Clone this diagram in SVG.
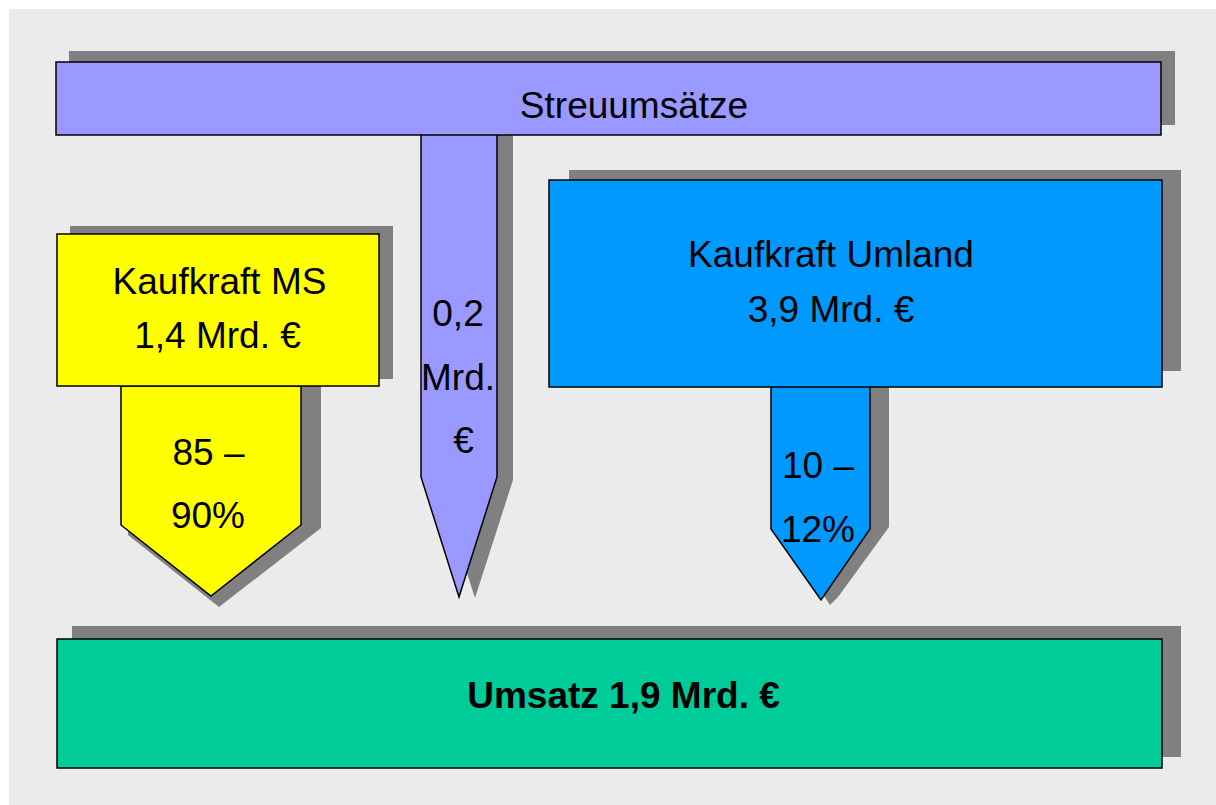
<svg xmlns="http://www.w3.org/2000/svg" width="1216" height="805" viewBox="0 0 1216 805">
<style>
.shadow{fill:#808080;stroke:none}
.box{stroke:#000;stroke-width:1.5}
.t{font-family:"Liberation Sans",Arial,Helvetica,sans-serif;font-size:37px;fill:#000;text-anchor:middle}
.b{font-weight:bold}
</style>
<rect x="0" y="0" width="1216" height="805" fill="#ffffff"/>
<rect x="9" y="9" width="1207" height="796" fill="#ebebeb"/>
<g id="streuumsaetze">
<rect class="shadow" x="69" y="51" width="1106" height="74"/>
<polygon class="shadow" points="437,125 513,125 513,480 475,598 437,480"/>
<polygon class="box" fill="#9999ff" points="421,134 497,134 497,477 459,597 421,477"/>
<rect class="box" fill="#9999ff" x="56" y="62" width="1105" height="73"/>
<text class="t" x="634" y="118">Streuumsätze</text>
<text class="t" x="458" y="326">0,2</text>
<text class="t" x="458" y="390">Mrd.</text>
<text class="t" x="463.5" y="453">€</text>
</g>
<g id="kaufkraft-ms">
<rect class="shadow" x="70" y="226" width="323" height="153"/>
<polygon class="shadow" points="130,386 321,386 321,528 219,607 128,535"/>
<polygon class="box" fill="#ffff00" points="121,386 301,386 301,525 211,596 121,525"/>
<rect class="box" fill="#ffff00" x="57" y="234" width="322" height="152"/>
<text class="t" x="219.5" y="294">Kaufkraft MS</text>
<text class="t" x="217.5" y="348">1,4 Mrd. €</text>
<text class="t" x="208.5" y="465">85 –</text>
<text class="t" x="208" y="528">90%</text>
</g>
<g id="kaufkraft-umland">
<rect class="shadow" x="569" y="170" width="612" height="201"/>
<polygon class="shadow" points="790,386 889,386 889,527 838,597 830,605 790,545"/>
<polygon class="box" fill="#0099ff" points="771,386 870,386 870,529 821,600 771,529"/>
<rect class="box" fill="#0099ff" x="549" y="180" width="613" height="207"/>
<text class="t" x="831" y="267">Kaufkraft Umland</text>
<text class="t" x="831" y="322">3,9 Mrd. €</text>
<text class="t" x="818" y="478">10 –</text>
<text class="t" x="818" y="542">12%</text>
</g>
<g id="umsatz">
<rect class="shadow" x="72" y="626" width="1109" height="131"/>
<rect class="box" fill="#00cc99" x="57" y="639" width="1105" height="129"/>
<text class="t b" x="623.5" y="708">Umsatz 1,9 Mrd. €</text>
</g>
<g id="connectors"></g>
</svg>
